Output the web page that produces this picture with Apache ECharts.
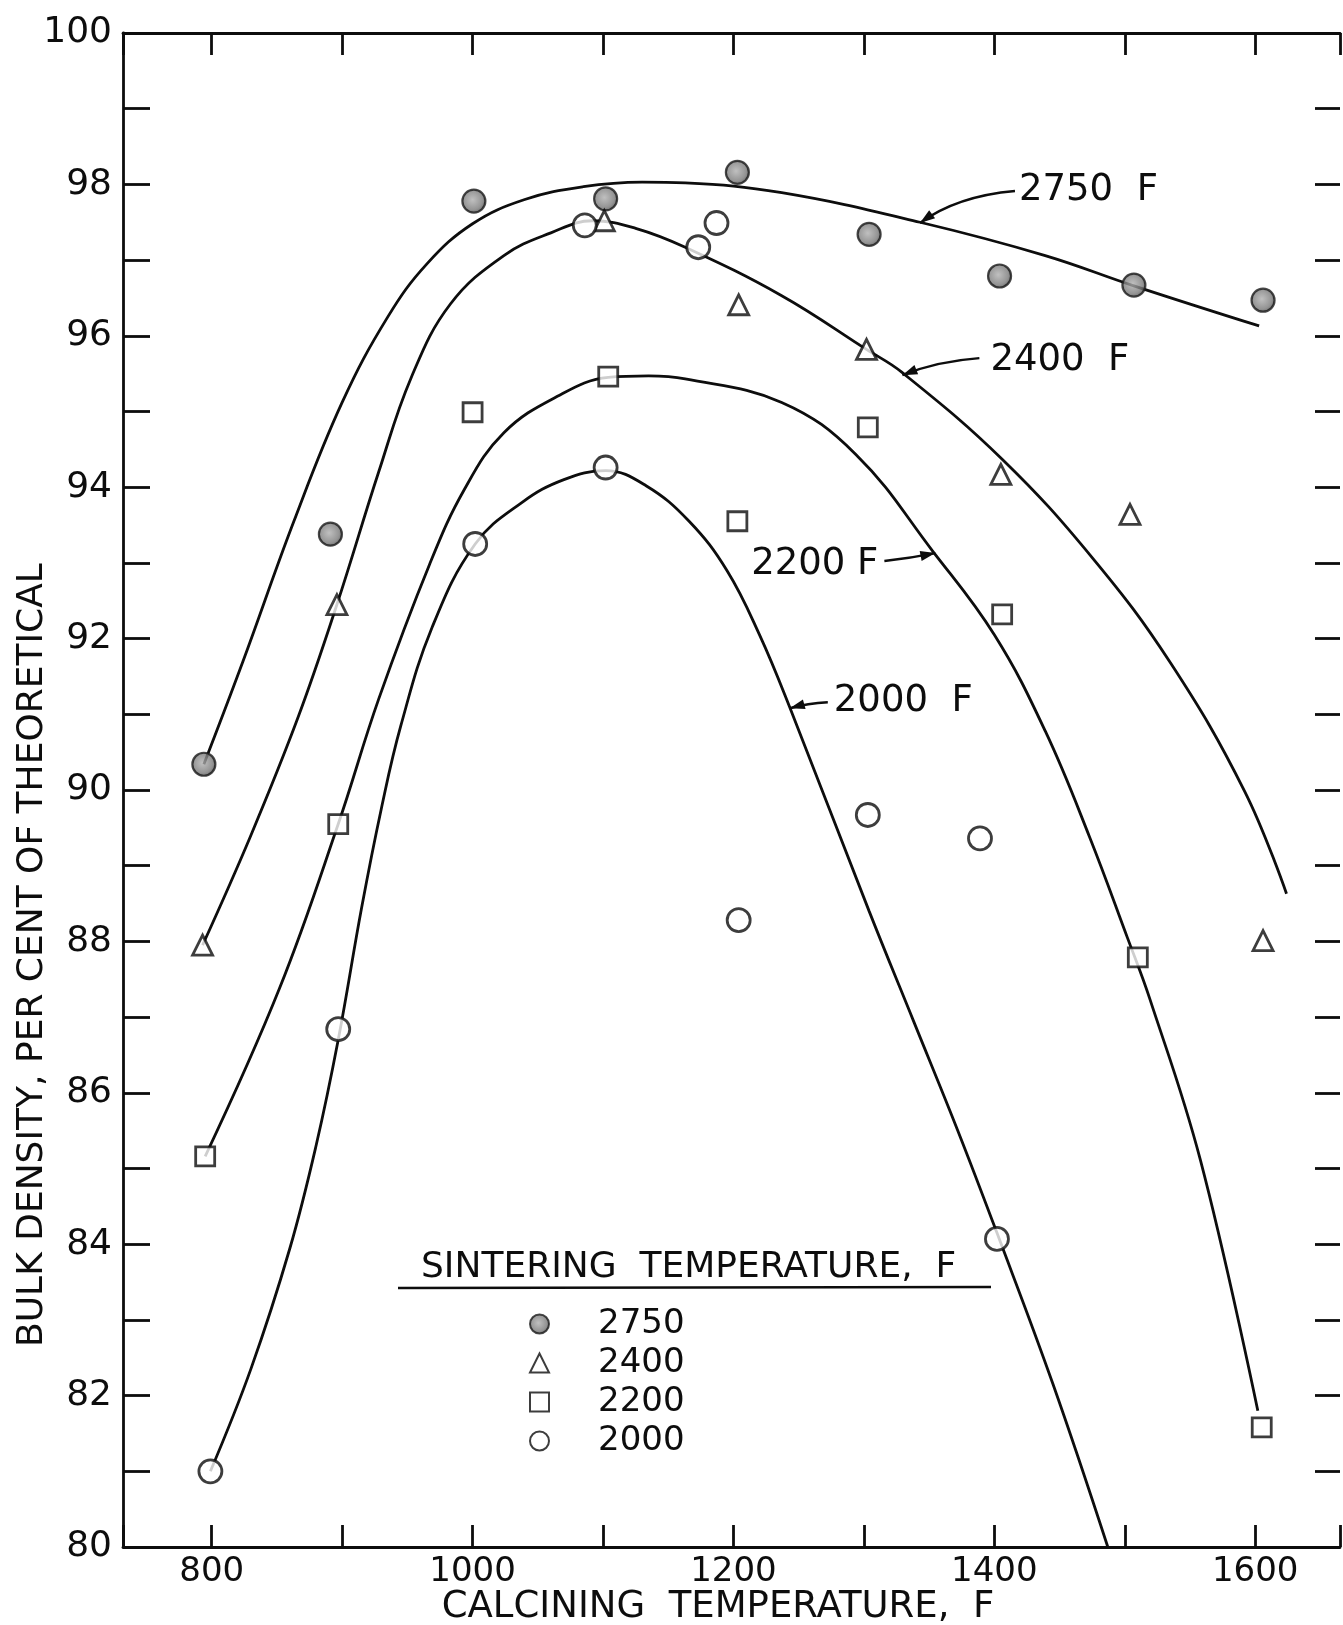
<!DOCTYPE html>
<html>
<head>
<meta charset="utf-8">
<script src="https://cdn.jsdelivr.net/npm/echarts@6/dist/echarts.min.js"></script>
<style>
html,body{margin:0;padding:0;background:#fff;}
#c{width:1343px;height:1625px;}
</style>
</head>
<body>
<div id="c"></div>
<script>
// ---------------- data ----------------
const sinterTemps = ['2750', '2400', '2200', '2000'];

// measured points: calcining temperature (F) vs bulk density (% of theoretical)
const calc2750 = [794, 891, 1001, 1102, 1203, 1304, 1404, 1507, 1606];
const dens2750 = [90.34, 93.38, 97.78, 97.81, 98.16, 97.34, 96.79, 96.67, 96.47];

const calc2400 = [793, 896, 1101, 1204, 1302, 1405, 1504, 1606];
const dens2400 = [87.95, 92.45, 97.52, 96.41, 95.82, 94.17, 93.64, 88.01];

const calc2200 = [795, 897, 1000, 1104, 1203, 1303, 1406, 1510, 1605];
const dens2200 = [85.16, 89.55, 94.99, 95.46, 93.55, 94.79, 92.32, 87.79, 81.58];

const calc2000 = [799, 897, 1002, 1102, 1204, 1303, 1389, 1402];
const dens2000 = [81.0, 86.84, 93.25, 94.26, 88.28, 89.67, 89.36, 84.07];

// additional open-circle points plotted near the top of the chart
const calcExtra = [1086, 1173, 1187];
const densExtra = [97.46, 97.17, 97.49];

// hand-drawn curves
const curve2750X = [794, 824, 863, 900, 935, 965, 1000, 1040, 1085, 1130, 1163, 1237, 1343, 1439, 1507, 1603];
const curve2750Y = [90.34, 91.70, 93.55, 95.12, 96.25, 96.95, 97.48, 97.80, 97.97, 98.03, 98.02, 97.89, 97.50, 97.06, 96.66, 96.13];

const curve2400X = [793, 830, 866, 896, 928, 953, 983, 1024, 1060, 1092, 1125, 1163, 1237, 1302, 1329, 1406, 1475, 1535, 1592, 1624];
const curve2400Y = [87.95, 89.40, 90.95, 92.45, 94.20, 95.45, 96.42, 97.06, 97.36, 97.52, 97.42, 97.17, 96.53, 95.82, 95.52, 94.37, 93.07, 91.68, 89.98, 88.63];

const curve2200X = [795, 852, 897, 928, 967, 994, 1024, 1065, 1104, 1135, 1163, 1237, 1294, 1353, 1400, 1439, 1473, 1502, 1519, 1558, 1602];
const curve2200Y = [85.16, 87.38, 89.55, 91.20, 92.98, 93.98, 94.72, 95.20, 95.45, 95.47, 95.43, 95.12, 94.43, 93.15, 92.05, 90.78, 89.38, 88.05, 87.25, 85.11, 81.80];

const curve2000X = [799, 830, 860, 880, 897, 915, 930, 945, 969, 1002, 1038, 1070, 1102, 1133, 1166, 1195, 1220, 1243, 1304, 1338, 1372, 1402, 1445, 1487];
const curve2000Y = [81.0, 82.35, 83.95, 85.30, 86.70, 88.45, 89.75, 90.85, 92.15, 93.25, 93.80, 94.10, 94.22, 94.02, 93.55, 92.90, 92.05, 91.10, 88.40, 86.95, 85.50, 84.15, 82.15, 80.0];

// curve labels with the data point their arrow touches
const curveLabels = ['2750  F', '2400  F', '2200 F', '2000  F'];
const arrowTipX = [1343, 1329.5, 1354.8, 1243.2];
const arrowTipY = [97.49, 95.48, 93.13, 91.08];

// ---------------- chart ----------------
const FONT = 'DejaVu Sans';
const INK = '#0d0d0d';
const pairs = (xs, ys) => xs.map((x, i) => [x, ys[i]]);

const chart = echarts.init(document.getElementById('c'), null, {renderer: 'canvas'});

const filledGray = new echarts.graphic.RadialGradient(0.45, 0.45, 0.6, [
  {offset: 0, color: '#b0b0b0'},
  {offset: 0.65, color: '#7a7a7a'},
  {offset: 1, color: '#3a3a3a'}
]);

const markerDefs = {
  '2750': {symbol: 'circle', size: 23, itemStyle: {color: filledGray, borderColor: '#1a1a1a', borderWidth: 2.2}},
  '2400': {symbol: 'triangle', size: 20, itemStyle: {color: '#fff', borderColor: INK, borderWidth: 2.8}},
  '2200': {symbol: 'rect', size: 19, itemStyle: {color: '#fff', borderColor: INK, borderWidth: 2.8}},
  '2000': {symbol: 'circle', size: 23, itemStyle: {color: '#fff', borderColor: INK, borderWidth: 2.8}}
};

const pointData = {
  '2750': pairs(calc2750, dens2750),
  '2400': pairs(calc2400, dens2400),
  '2200': pairs(calc2200, dens2200),
  '2000': pairs(calc2000, dens2000)
};
const curveData = [
  pairs(curve2750X, curve2750Y),
  pairs(curve2400X, curve2400Y),
  pairs(curve2200X, curve2200Y),
  pairs(curve2000X, curve2000Y)
];

const series = [];
curveData.forEach((d, i) => {
  series.push({
    type: 'line', name: 'curve ' + sinterTemps[i], data: d,
    smooth: 0.4, showSymbol: false, symbol: 'none', silent: true, z: 2,
    lineStyle: {color: INK, width: 2.8}
  });
});
sinterTemps.forEach(t => {
  const m = markerDefs[t];
  series.push({
    type: 'scatter', name: t, data: pointData[t], symbol: m.symbol, symbolSize: m.size,
    itemStyle: m.itemStyle, z: 5, silent: true
  });
});
series.push({
  type: 'scatter', name: 'extra', data: pairs(calcExtra, densExtra), symbol: 'circle', symbolSize: 23,
  itemStyle: {color: '#fff', borderColor: INK, borderWidth: 2.8}, z: 5, silent: true
});

const axisLineStyle = {color: INK, width: 2.8};
const option = {
  animation: false,
  backgroundColor: '#fff',
  grid: {left: 123, right: 0, top: 33, bottom: 78},
  xAxis: [
    {
      type: 'value', position: 'bottom', min: 732, max: 1665, minInterval: 100, maxInterval: 100,
      splitLine: {show: false},
      axisLine: {show: true, lineStyle: axisLineStyle},
      axisTick: {show: true, inside: true, length: 22, lineStyle: axisLineStyle},
      axisLabel: {margin: 8, fontFamily: FONT, fontSize: 34, color: INK,
        formatter: v => (v % 200 === 0 ? String(v) : '')}
    },
    {
      type: 'value', position: 'top', min: 732, max: 1665, minInterval: 100, maxInterval: 100,
      splitLine: {show: false},
      axisLine: {show: true, lineStyle: axisLineStyle},
      axisTick: {show: true, inside: true, length: 22, lineStyle: axisLineStyle},
      axisLabel: {show: false}
    }
  ],
  yAxis: [
    {
      type: 'value', position: 'left', min: 80, max: 100, interval: 1,
      splitLine: {show: false},
      axisLine: {show: true, lineStyle: axisLineStyle},
      axisTick: {show: true, inside: true, length: 27, lineStyle: axisLineStyle},
      axisLabel: {margin: 11, fontFamily: FONT, fontSize: 36, color: INK,
        formatter: v => (v % 2 === 0 ? String(v) : '')}
    },
    {
      type: 'value', position: 'right', min: 80, max: 100, interval: 1,
      splitLine: {show: false},
      axisLine: {show: false},
      axisTick: {show: true, inside: true, length: 25, lineStyle: axisLineStyle},
      axisLabel: {show: false}
    }
  ],
  legend: {
    orient: 'vertical', left: 524, top: 1302,
    itemWidth: 19, itemHeight: 19, itemGap: 5,
    selectedMode: false,
    data: sinterTemps,
    textStyle: {fontFamily: FONT, fontSize: 34, color: INK, padding: [0, 0, 0, 44]}
  },
  series: series
};
chart.setOption(option);

// ---------------- annotations, anchored to data coordinates ----------------
const arrowLayout = [
  {ctrl: [37, -27], tail: [95, -32], text: [99, -33], align: 'left'},
  {ctrl: [35, -14], tail: [77, -17], text: [88, -15], align: 'left'},
  {ctrl: [-25, 5], tail: [-51, 8], text: [-57, 11], align: 'right'},
  {ctrl: [18, -5], tail: [38, -6], text: [44, -7], align: 'left'}
];
const graphics = [];
curveLabels.forEach((lab, i) => {
  const p = chart.convertToPixel({xAxisIndex: 0, yAxisIndex: 0}, [arrowTipX[i], arrowTipY[i]]);
  const L = arrowLayout[i];
  const cx = p[0] + L.ctrl[0], cy = p[1] + L.ctrl[1];
  const tx = p[0] + L.tail[0], ty = p[1] + L.tail[1];
  graphics.push({
    type: 'bezierCurve', silent: true, z: 10,
    shape: {x1: tx, y1: ty, cpx1: cx, cpy1: cy, x2: p[0], y2: p[1]},
    style: {stroke: INK, lineWidth: 2.4, fill: null}
  });
  const dx = p[0] - cx, dy = p[1] - cy, len = Math.hypot(dx, dy) || 1;
  const ux = dx / len, uy = dy / len, hl = 15, hw = 5;
  graphics.push({
    type: 'polygon', silent: true, z: 10,
    shape: {points: [[p[0], p[1]],
      [p[0] - ux * hl - uy * hw, p[1] - uy * hl + ux * hw],
      [p[0] - ux * hl + uy * hw, p[1] - uy * hl - ux * hw]]},
    style: {fill: INK}
  });
  graphics.push({
    type: 'text', silent: true, z: 10,
    x: p[0] + L.text[0], y: p[1] + L.text[1],
    style: {text: lab, fontFamily: FONT, fontSize: 37, fill: INK, align: L.align, verticalAlign: 'middle'}
  });
});
// legend heading and rule
graphics.push({
  type: 'text', silent: true, x: 421, y: 1268,
  style: {text: 'SINTERING  TEMPERATURE,  F', fontFamily: FONT, fontSize: 36, fill: INK, align: 'left', verticalAlign: 'middle'}
});
graphics.push({
  type: 'line', silent: true, shape: {x1: 398, y1: 1288, x2: 991, y2: 1287},
  style: {stroke: INK, lineWidth: 2.6}
});
// axis titles
graphics.push({
  type: 'text', silent: true, x: 718, y: 1607,
  style: {text: 'CALCINING  TEMPERATURE,  F', fontFamily: FONT, fontSize: 37, fill: INK, align: 'center', verticalAlign: 'middle'}
});
graphics.push({
  type: 'text', silent: true, x: 33, y: 955, rotation: Math.PI / 2,
  style: {text: 'BULK DENSITY, PER CENT OF THEORETICAL', fontFamily: FONT, fontSize: 36, fill: INK, align: 'center', verticalAlign: 'middle'}
});
chart.setOption({graphic: graphics});
</script>
</body>
</html>
